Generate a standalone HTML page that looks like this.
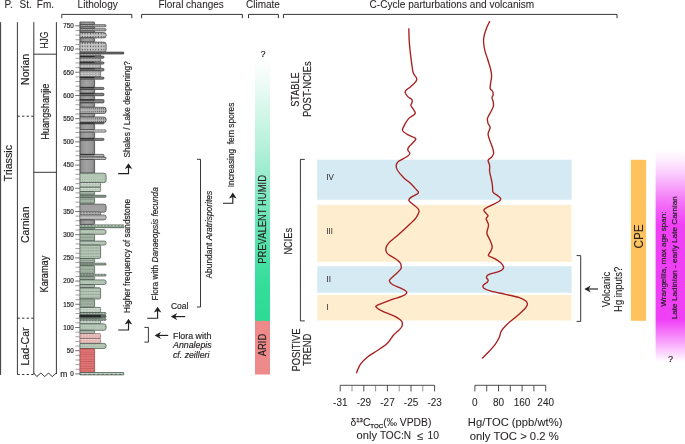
<!DOCTYPE html>
<html lang="en"><head><meta charset="utf-8"><title>Triassic section: lithology, floral changes, climate, C-cycle</title>
<style>
html,body{margin:0;padding:0;background:#fff;}
body{width:685px;height:444px;overflow:hidden;}
svg{display:block;font-family:"Liberation Sans", Arial, sans-serif;will-change:transform;}
text{stroke:#231f20;stroke-width:0.18px;}
</style></head><body>
<svg width="685" height="444" viewBox="0 0 685 444">
<defs>
<linearGradient id="gHumid" x1="0" y1="0" x2="0" y2="1">
<stop offset="0" stop-color="#ffffff"/>
<stop offset="0.08" stop-color="#f1fcf8"/>
<stop offset="0.35" stop-color="#b3f0d9"/>
<stop offset="0.6" stop-color="#6fe6b8"/>
<stop offset="0.85" stop-color="#36dd9b"/>
<stop offset="1" stop-color="#2bdb96"/>
</linearGradient>
<linearGradient id="gWr" x1="0" y1="0" x2="0" y2="1">
<stop offset="0" stop-color="#ffffff"/>
<stop offset="0.05" stop-color="#fdecfe"/>
<stop offset="0.113" stop-color="#fbcbfd"/>
<stop offset="0.24" stop-color="#f476f8"/>
<stop offset="0.35" stop-color="#f040f6"/>
<stop offset="0.80" stop-color="#f040f6"/>
<stop offset="0.90" stop-color="#f89dfb"/>
<stop offset="1" stop-color="#ffffff"/>
</linearGradient>
<linearGradient id="gMud" gradientUnits="userSpaceOnUse" x1="79.9" y1="0" x2="94.6" y2="0"><stop offset="0" stop-color="#7f7f7f"/><stop offset="0.18" stop-color="#979797"/><stop offset="0.45" stop-color="#a2a2a2"/><stop offset="0.82" stop-color="#979797"/><stop offset="1" stop-color="#7f7f7f"/></linearGradient>
<pattern id="pDotS" width="2.4" height="2.4" patternUnits="userSpaceOnUse"><rect x="0.7" y="0.8" width="0.8" height="0.7" fill="#4a4a4a"/></pattern>
<pattern id="pDotD" width="2.05" height="2.5" patternUnits="userSpaceOnUse"><rect x="0.5" y="0.9" width="0.9" height="1.0" fill="#3a3a3a"/></pattern>
<pattern id="pDotG" width="2.7" height="3.2" patternUnits="userSpaceOnUse"><rect x="0.8" y="1" width="1" height="1.2" fill="#2e2e2e"/></pattern>
<pattern id="pDotGr" width="2.2" height="2.2" patternUnits="userSpaceOnUse"><rect x="0.6" y="0.8" width="0.7" height="0.7" fill="#8fa68f"/></pattern>
<pattern id="pDashW" width="3" height="2.4" patternUnits="userSpaceOnUse"><rect x="0.4" y="1" width="1.8" height="0.7" fill="#eef5ee"/></pattern>
<pattern id="pDashWg" width="3" height="2.4" patternUnits="userSpaceOnUse"><rect x="0.4" y="1" width="1.8" height="0.7" fill="#ececec"/></pattern>
<pattern id="pDashP" width="3" height="2.4" patternUnits="userSpaceOnUse"><rect x="0.4" y="1" width="1.8" height="0.7" fill="#fbeeee"/></pattern>
<pattern id="pCross" width="1.8" height="1.8" patternUnits="userSpaceOnUse"><path d="M0,0L1.8,1.8M1.8,0L0,1.8" stroke="#5f5f5f" stroke-width="0.32"/></pattern>
<pattern id="pCongB" width="4.4" height="2.4" patternUnits="userSpaceOnUse" y="372.5"><rect x="0.4" y="1.5" width="2.2" height="0.8" fill="#55655a"/></pattern>
<pattern id="pDashD" width="2.5" height="2.9" patternUnits="userSpaceOnUse"><rect x="0.3" y="1.2" width="1.7" height="0.55" fill="#667b66"/></pattern>
<pattern id="pVbar" width="1.7" height="3" patternUnits="userSpaceOnUse"><rect x="0.5" y="0.6" width="0.6" height="1.9" fill="#f4f4f4"/></pattern>
<pattern id="pLineG" width="4" height="2.9" patternUnits="userSpaceOnUse"><rect x="0" y="2.3" width="4" height="0.5" fill="#6f7f6f"/></pattern>
<pattern id="pLineR" width="4" height="2.35" patternUnits="userSpaceOnUse"><rect x="0" y="1.8" width="4" height="0.5" fill="#b65252"/></pattern>
<pattern id="pCong" width="4.6" height="2.4" patternUnits="userSpaceOnUse"><rect x="0.3" y="0.9" width="2.6" height="0.9" fill="#444"/></pattern>
<pattern id="pCongG" width="3.4" height="3.2" patternUnits="userSpaceOnUse"><rect x="0.6" y="1.2" width="1.5" height="0.9" fill="#eef7ee"/></pattern>
</defs>
<rect width="685" height="444" fill="#fff"/>

<text x="4.6" y="7.9" font-size="10" text-anchor="start" fill="#231f20" style="stroke-width:0.06px">P.</text>
<text x="19.6" y="7.9" font-size="10" text-anchor="start" fill="#231f20" style="stroke-width:0.06px">St.</text>
<text x="36.8" y="7.9" font-size="10" text-anchor="start" fill="#231f20" style="stroke-width:0.06px">Fm.</text>
<text x="77.6" y="7.9" font-size="10" text-anchor="start" fill="#231f20" textLength="40.2" lengthAdjust="spacingAndGlyphs" style="stroke-width:0.06px">Lithology</text>
<text x="158.5" y="7.9" font-size="10" text-anchor="start" fill="#231f20" textLength="65.2" lengthAdjust="spacingAndGlyphs" style="stroke-width:0.06px">Floral changes</text>
<text x="246.0" y="7.9" font-size="10" text-anchor="start" fill="#231f20" style="stroke-width:0.06px">Climate</text>
<text x="369.6" y="7.9" font-size="10" text-anchor="start" fill="#231f20" textLength="164.6" lengthAdjust="spacingAndGlyphs" style="stroke-width:0.06px">C-Cycle parturbations and volcanism</text>
<path d="M61.8,18.2V14.4H131.8V18.2" fill="none" stroke="#231f20" stroke-width="0.9"/>
<path d="M141.6,18.2V14.4H242.4V18.2" fill="none" stroke="#231f20" stroke-width="0.9"/>
<path d="M248.5,18.2V14.4H278.4V18.2" fill="none" stroke="#231f20" stroke-width="0.9"/>
<path d="M283.4,18.2V14.4H617V18.2" fill="none" stroke="#231f20" stroke-width="0.9"/>
<g stroke="#231f20" stroke-width="0.9" fill="none">
<path d="M0.6,22.2V375"/>
<path d="M17.4,22.2V374.4"/>
<path d="M33.8,22.2V374"/>
<path d="M56.4,22.2V374"/>
<path d="M33.8,54.2H56.4"/>
<path d="M33.8,172.3H56.4"/>
<path d="M17.4,116.2H33.8" stroke-dasharray="2.4,2.2"/>
<path d="M17.4,318.2H33.8" stroke-dasharray="2.4,2.2"/>
<path d="M17.4,374.5H33.8" stroke-dasharray="2.4,2.2"/>
<path d="M33.8,373.0L36.8,376.6L40.9,373.0L44.6,376.6L48.6,373.0L52.1,376.6L56.4,373.0" stroke-linejoin="miter"/>
</g>
<text x="12.4" y="163.2" font-size="10.6" text-anchor="middle" fill="#231f20" transform="rotate(-90 12.4 163.2)" textLength="36.4" lengthAdjust="spacingAndGlyphs">Triassic</text>
<text x="29.4" y="69.4" font-size="10.6" text-anchor="middle" fill="#231f20" transform="rotate(-90 29.4 69.4)" textLength="31" lengthAdjust="spacingAndGlyphs">Norian</text>
<text x="29.4" y="224.8" font-size="10.6" text-anchor="middle" fill="#231f20" transform="rotate(-90 29.4 224.8)" textLength="36.6" lengthAdjust="spacingAndGlyphs">Carnian</text>
<text x="29.4" y="346.5" font-size="10.6" text-anchor="middle" fill="#231f20" transform="rotate(-90 29.4 346.5)" textLength="38" lengthAdjust="spacingAndGlyphs">Lad-Car</text>
<text x="48.2" y="40" font-size="10.4" text-anchor="middle" fill="#231f20" transform="rotate(-90 48.2 40)" textLength="17" lengthAdjust="spacingAndGlyphs">HJG</text>
<text x="48.6" y="111.7" font-size="10.4" text-anchor="middle" fill="#231f20" transform="rotate(-90 48.6 111.7)" textLength="56.2" lengthAdjust="spacingAndGlyphs">Huangshanjie</text>
<text x="48.4" y="274.1" font-size="10.4" text-anchor="middle" fill="#231f20" transform="rotate(-90 48.4 274.1)" textLength="36.8" lengthAdjust="spacingAndGlyphs">Karamay</text>
<path d="M75.2,373.90H79.9" stroke="#333" stroke-width="0.7"/>
<path d="M75.5,369.26H79.9" stroke="#777" stroke-width="0.7"/>
<path d="M75.5,364.62H79.9" stroke="#777" stroke-width="0.7"/>
<path d="M75.5,359.98H79.9" stroke="#777" stroke-width="0.7"/>
<path d="M75.5,355.34H79.9" stroke="#777" stroke-width="0.7"/>
<path d="M75.2,350.69H79.9" stroke="#333" stroke-width="0.7"/>
<path d="M75.5,346.05H79.9" stroke="#777" stroke-width="0.7"/>
<path d="M75.5,341.41H79.9" stroke="#777" stroke-width="0.7"/>
<path d="M75.5,336.77H79.9" stroke="#777" stroke-width="0.7"/>
<path d="M75.5,332.13H79.9" stroke="#777" stroke-width="0.7"/>
<path d="M75.2,327.49H79.9" stroke="#333" stroke-width="0.7"/>
<path d="M75.5,322.85H79.9" stroke="#777" stroke-width="0.7"/>
<path d="M75.5,318.21H79.9" stroke="#777" stroke-width="0.7"/>
<path d="M75.5,313.57H79.9" stroke="#777" stroke-width="0.7"/>
<path d="M75.5,308.93H79.9" stroke="#777" stroke-width="0.7"/>
<path d="M75.2,304.28H79.9" stroke="#333" stroke-width="0.7"/>
<path d="M75.5,299.64H79.9" stroke="#777" stroke-width="0.7"/>
<path d="M75.5,295.00H79.9" stroke="#777" stroke-width="0.7"/>
<path d="M75.5,290.36H79.9" stroke="#777" stroke-width="0.7"/>
<path d="M75.5,285.72H79.9" stroke="#777" stroke-width="0.7"/>
<path d="M75.2,281.08H79.9" stroke="#333" stroke-width="0.7"/>
<path d="M75.5,276.44H79.9" stroke="#777" stroke-width="0.7"/>
<path d="M75.5,271.80H79.9" stroke="#777" stroke-width="0.7"/>
<path d="M75.5,267.16H79.9" stroke="#777" stroke-width="0.7"/>
<path d="M75.5,262.52H79.9" stroke="#777" stroke-width="0.7"/>
<path d="M75.2,257.88H79.9" stroke="#333" stroke-width="0.7"/>
<path d="M75.5,253.23H79.9" stroke="#777" stroke-width="0.7"/>
<path d="M75.5,248.59H79.9" stroke="#777" stroke-width="0.7"/>
<path d="M75.5,243.95H79.9" stroke="#777" stroke-width="0.7"/>
<path d="M75.5,239.31H79.9" stroke="#777" stroke-width="0.7"/>
<path d="M75.2,234.67H79.9" stroke="#333" stroke-width="0.7"/>
<path d="M75.5,230.03H79.9" stroke="#777" stroke-width="0.7"/>
<path d="M75.5,225.39H79.9" stroke="#777" stroke-width="0.7"/>
<path d="M75.5,220.75H79.9" stroke="#777" stroke-width="0.7"/>
<path d="M75.5,216.11H79.9" stroke="#777" stroke-width="0.7"/>
<path d="M75.2,211.46H79.9" stroke="#333" stroke-width="0.7"/>
<path d="M75.5,206.82H79.9" stroke="#777" stroke-width="0.7"/>
<path d="M75.5,202.18H79.9" stroke="#777" stroke-width="0.7"/>
<path d="M75.5,197.54H79.9" stroke="#777" stroke-width="0.7"/>
<path d="M75.5,192.90H79.9" stroke="#777" stroke-width="0.7"/>
<path d="M75.2,188.26H79.9" stroke="#333" stroke-width="0.7"/>
<path d="M75.5,183.62H79.9" stroke="#777" stroke-width="0.7"/>
<path d="M75.5,178.98H79.9" stroke="#777" stroke-width="0.7"/>
<path d="M75.5,174.34H79.9" stroke="#777" stroke-width="0.7"/>
<path d="M75.5,169.70H79.9" stroke="#777" stroke-width="0.7"/>
<path d="M75.2,165.05H79.9" stroke="#333" stroke-width="0.7"/>
<path d="M75.5,160.41H79.9" stroke="#777" stroke-width="0.7"/>
<path d="M75.5,155.77H79.9" stroke="#777" stroke-width="0.7"/>
<path d="M75.5,151.13H79.9" stroke="#777" stroke-width="0.7"/>
<path d="M75.5,146.49H79.9" stroke="#777" stroke-width="0.7"/>
<path d="M75.2,141.85H79.9" stroke="#333" stroke-width="0.7"/>
<path d="M75.5,137.21H79.9" stroke="#777" stroke-width="0.7"/>
<path d="M75.5,132.57H79.9" stroke="#777" stroke-width="0.7"/>
<path d="M75.5,127.93H79.9" stroke="#777" stroke-width="0.7"/>
<path d="M75.5,123.29H79.9" stroke="#777" stroke-width="0.7"/>
<path d="M75.2,118.64H79.9" stroke="#333" stroke-width="0.7"/>
<path d="M75.5,114.00H79.9" stroke="#777" stroke-width="0.7"/>
<path d="M75.5,109.36H79.9" stroke="#777" stroke-width="0.7"/>
<path d="M75.5,104.72H79.9" stroke="#777" stroke-width="0.7"/>
<path d="M75.5,100.08H79.9" stroke="#777" stroke-width="0.7"/>
<path d="M75.2,95.44H79.9" stroke="#333" stroke-width="0.7"/>
<path d="M75.5,90.80H79.9" stroke="#777" stroke-width="0.7"/>
<path d="M75.5,86.16H79.9" stroke="#777" stroke-width="0.7"/>
<path d="M75.5,81.52H79.9" stroke="#777" stroke-width="0.7"/>
<path d="M75.5,76.88H79.9" stroke="#777" stroke-width="0.7"/>
<path d="M75.2,72.23H79.9" stroke="#333" stroke-width="0.7"/>
<path d="M75.5,67.59H79.9" stroke="#777" stroke-width="0.7"/>
<path d="M75.5,62.95H79.9" stroke="#777" stroke-width="0.7"/>
<path d="M75.5,58.31H79.9" stroke="#777" stroke-width="0.7"/>
<path d="M75.5,53.67H79.9" stroke="#777" stroke-width="0.7"/>
<path d="M75.2,49.03H79.9" stroke="#333" stroke-width="0.7"/>
<path d="M75.5,44.39H79.9" stroke="#777" stroke-width="0.7"/>
<path d="M75.5,39.75H79.9" stroke="#777" stroke-width="0.7"/>
<path d="M75.5,35.11H79.9" stroke="#777" stroke-width="0.7"/>
<path d="M75.5,30.47H79.9" stroke="#777" stroke-width="0.7"/>
<path d="M75.2,25.82H79.9" stroke="#333" stroke-width="0.7"/>
<text x="73.7" y="376.2" font-size="6.3" text-anchor="end" fill="#231f20">0</text>
<text x="73.7" y="353.0" font-size="6.3" text-anchor="end" fill="#231f20">50</text>
<text x="73.7" y="329.79" font-size="6.3" text-anchor="end" fill="#231f20">100</text>
<text x="73.7" y="306.58" font-size="6.3" text-anchor="end" fill="#231f20">150</text>
<text x="73.7" y="283.38" font-size="6.3" text-anchor="end" fill="#231f20">200</text>
<text x="73.7" y="260.18" font-size="6.3" text-anchor="end" fill="#231f20">250</text>
<text x="73.7" y="236.97" font-size="6.3" text-anchor="end" fill="#231f20">300</text>
<text x="73.7" y="213.76" font-size="6.3" text-anchor="end" fill="#231f20">350</text>
<text x="73.7" y="190.56" font-size="6.3" text-anchor="end" fill="#231f20">400</text>
<text x="73.7" y="167.35" font-size="6.3" text-anchor="end" fill="#231f20">450</text>
<text x="73.7" y="144.15" font-size="6.3" text-anchor="end" fill="#231f20">500</text>
<text x="73.7" y="120.94" font-size="6.3" text-anchor="end" fill="#231f20">550</text>
<text x="73.7" y="97.74" font-size="6.3" text-anchor="end" fill="#231f20">600</text>
<text x="73.7" y="74.53" font-size="6.3" text-anchor="end" fill="#231f20">650</text>
<text x="73.7" y="51.33" font-size="6.3" text-anchor="end" fill="#231f20">700</text>
<text x="73.7" y="28.12" font-size="6.3" text-anchor="end" fill="#231f20">750</text>
<text x="60.3" y="376.6" font-size="8.5" text-anchor="start" fill="#231f20">m</text>
<path d="M79.9,22.0H93.70Q94.6,22.0 94.6,22.90V23.80Q94.6,24.7 93.70,24.7H79.9Z" fill="url(#gMud)" stroke="#363636" stroke-width="0.7"/>
<path d="M79.9,24.7H105.15Q106.1,24.7 106.1,25.65V25.85Q106.1,26.8 105.15,26.8H79.9Z" fill="#c4c4c4" stroke="#363636" stroke-width="0.7"/>
<path d="M79.9,24.7H105.15Q106.1,24.7 106.1,25.65V25.85Q106.1,26.8 105.15,26.8H79.9Z" fill="url(#pDotS)"/>
<path d="M79.9,26.8H93.97Q94.6,26.8 94.6,27.43V28.07Q94.6,28.7 93.97,28.7H79.9Z" fill="url(#gMud)" stroke="#363636" stroke-width="0.7"/>
<path d="M79.9,28.7H105.10Q106.1,28.7 106.1,29.70V29.90Q106.1,30.9 105.10,30.9H79.9Z" fill="#c4c4c4" stroke="#363636" stroke-width="0.7"/>
<path d="M79.9,28.7H105.10Q106.1,28.7 106.1,29.70V29.90Q106.1,30.9 105.10,30.9H79.9Z" fill="url(#pDotS)"/>
<path d="M79.9,30.9H94.07Q94.6,30.9 94.6,31.43V31.97Q94.6,32.5 94.07,32.5H79.9Z" fill="url(#gMud)" stroke="#363636" stroke-width="0.7"/>
<path d="M79.9,32.5H103.90Q106.1,32.5 106.1,34.70V35.70Q106.1,37.9 103.90,37.9H79.9Z" fill="#c4c4c4" stroke="#363636" stroke-width="0.7"/>
<path d="M79.9,32.5H103.90Q106.1,32.5 106.1,34.70V35.70Q106.1,37.9 103.90,37.9H79.9Z" fill="url(#pDotG)"/>
<path d="M79.9,37.9H93.50Q94.6,37.9 94.6,39.00V41.00Q94.6,42.1 93.50,42.1H79.9Z" fill="url(#gMud)" stroke="#363636" stroke-width="0.7"/>
<path d="M79.9,42.1H103.90Q106.1,42.1 106.1,44.30V49.90Q106.1,52.1 103.90,52.1H79.9Z" fill="#c4c4c4" stroke="#363636" stroke-width="0.7"/>
<path d="M79.9,42.1H103.90Q106.1,42.1 106.1,44.30V49.90Q106.1,52.1 103.90,52.1H79.9Z" fill="url(#pDotG)"/>
<path d="M79.9,52.1H123.7V54.0H79.9Z" fill="#777" stroke="#363636" stroke-width="0.7"/>
<path d="M79.9,52.1H123.7V54.0H79.9Z" fill="url(#pCong)"/>
<path d="M79.9,54.0H100.00Q100.6,54.0 100.6,54.60V55.50Q100.6,56.1 100.00,56.1H79.9Z" fill="#a9a9a9" stroke="#363636" stroke-width="0.7"/>
<path d="M79.9,54.0H100.00Q100.6,54.0 100.6,54.60V55.50Q100.6,56.1 100.00,56.1H79.9Z" fill="url(#pDashWg)"/>
<path d="M79.9,56.1H103.00Q104.0,56.1 104.0,57.10V57.30Q104.0,58.3 103.00,58.3H79.9Z" fill="#858585" stroke="#363636" stroke-width="0.7"/>
<path d="M79.9,56.550000000000004H94.6" stroke="#1e1e1e" stroke-width="0.9"/>
<path d="M79.9,58.3H100.00Q100.6,58.3 100.6,58.90V61.30Q100.6,61.9 100.00,61.9H79.9Z" fill="#a9a9a9" stroke="#363636" stroke-width="0.7"/>
<path d="M79.9,58.3H100.00Q100.6,58.3 100.6,58.90V61.30Q100.6,61.9 100.00,61.9H79.9Z" fill="url(#pDashWg)"/>
<path d="M79.9,61.9H103.00Q104.0,61.9 104.0,62.90V63.10Q104.0,64.1 103.00,64.1H79.9Z" fill="#858585" stroke="#363636" stroke-width="0.7"/>
<path d="M79.9,62.35H94.6" stroke="#1e1e1e" stroke-width="0.9"/>
<path d="M79.9,64.1H100.00Q100.6,64.1 100.6,64.70V67.80Q100.6,68.4 100.00,68.4H79.9Z" fill="#a9a9a9" stroke="#363636" stroke-width="0.7"/>
<path d="M79.9,64.1H100.00Q100.6,64.1 100.6,64.70V67.80Q100.6,68.4 100.00,68.4H79.9Z" fill="url(#pDashWg)"/>
<path d="M79.9,68.4H103.00Q104.0,68.4 104.0,69.40V69.90Q104.0,70.9 103.00,70.9H79.9Z" fill="#858585" stroke="#363636" stroke-width="0.7"/>
<path d="M79.9,68.85000000000001H94.6" stroke="#1e1e1e" stroke-width="0.9"/>
<path d="M79.9,70.9H100.00Q100.6,70.9 100.6,71.50V76.40Q100.6,77.0 100.00,77.0H79.9Z" fill="#a9a9a9" stroke="#363636" stroke-width="0.7"/>
<path d="M79.9,70.9H100.00Q100.6,70.9 100.6,71.50V76.40Q100.6,77.0 100.00,77.0H79.9Z" fill="url(#pDashWg)"/>
<path d="M79.9,77.0H103.00Q104.0,77.0 104.0,78.00V78.20Q104.0,79.2 103.00,79.2H79.9Z" fill="#858585" stroke="#363636" stroke-width="0.7"/>
<path d="M79.9,77.45H94.6" stroke="#1e1e1e" stroke-width="0.9"/>
<path d="M79.9,79.2H93.50Q94.6,79.2 94.6,80.30V86.30Q94.6,87.4 93.50,87.4H79.9Z" fill="url(#gMud)" stroke="#363636" stroke-width="0.7"/>
<path d="M79.9,87.4H103.05Q104.0,87.4 104.0,88.35V88.55Q104.0,89.5 103.05,89.5H79.9Z" fill="#858585" stroke="#363636" stroke-width="0.7"/>
<path d="M79.9,87.85000000000001H94.6" stroke="#1e1e1e" stroke-width="0.9"/>
<path d="M79.9,89.5H93.50Q94.6,89.5 94.6,90.60V92.20Q94.6,93.3 93.50,93.3H79.9Z" fill="url(#gMud)" stroke="#363636" stroke-width="0.7"/>
<path d="M79.9,93.3H103.00Q104.0,93.3 104.0,94.30V94.70Q104.0,95.7 103.00,95.7H79.9Z" fill="#858585" stroke="#363636" stroke-width="0.7"/>
<path d="M79.9,93.75H94.6" stroke="#1e1e1e" stroke-width="0.9"/>
<path d="M79.9,95.7H93.50Q94.6,95.7 94.6,96.80V98.50Q94.6,99.6 93.50,99.6H79.9Z" fill="url(#gMud)" stroke="#363636" stroke-width="0.7"/>
<path d="M79.9,99.6H103.00Q104.0,99.6 104.0,100.60V101.90Q104.0,102.9 103.00,102.9H79.9Z" fill="#858585" stroke="#363636" stroke-width="0.7"/>
<path d="M79.9,100.05H94.6" stroke="#1e1e1e" stroke-width="0.9"/>
<path d="M79.9,102.9H93.50Q94.6,102.9 94.6,104.00V106.20Q94.6,107.3 93.50,107.3H79.9Z" fill="url(#gMud)" stroke="#363636" stroke-width="0.7"/>
<path d="M79.9,107.3H103.90Q106.1,107.3 106.1,109.50V111.20Q106.1,113.4 103.90,113.4H79.9Z" fill="#bbbbbb" stroke="#363636" stroke-width="0.7"/>
<path d="M79.9,107.3H103.90Q106.1,107.3 106.1,109.50V111.20Q106.1,113.4 103.90,113.4H79.9Z" fill="url(#pDotD)"/>
<path d="M79.9,113.4H93.50Q94.6,113.4 94.6,114.50V115.90Q94.6,117.0 93.50,117.0H79.9Z" fill="url(#gMud)" stroke="#363636" stroke-width="0.7"/>
<path d="M79.9,117.0H103.90Q106.1,117.0 106.1,119.20V120.40Q106.1,122.6 103.90,122.6H79.9Z" fill="#bbbbbb" stroke="#363636" stroke-width="0.7"/>
<path d="M79.9,117.0H103.90Q106.1,117.0 106.1,119.20V120.40Q106.1,122.6 103.90,122.6H79.9Z" fill="url(#pDotD)"/>
<path d="M79.9,122.6H103.41Q104.0,122.6 104.0,123.19V123.31Q104.0,123.9 103.41,123.9H79.9Z" fill="#858585" stroke="#363636" stroke-width="0.7"/>
<path d="M79.9,123.05H94.6" stroke="#1e1e1e" stroke-width="0.9"/>
<path d="M79.9,123.9H93.50Q94.6,123.9 94.6,125.00V128.80Q94.6,129.9 93.50,129.9H79.9Z" fill="url(#gMud)" stroke="#363636" stroke-width="0.7"/>
<path d="M79.9,129.9H105.10Q106.1,129.9 106.1,130.90V131.10Q106.1,132.1 105.10,132.1H79.9Z" fill="#c4c4c4" stroke="#363636" stroke-width="0.7"/>
<path d="M79.9,129.9H105.10Q106.1,129.9 106.1,130.90V131.10Q106.1,132.1 105.10,132.1H79.9Z" fill="url(#pDashWg)"/>
<path d="M79.9,132.1H93.50Q94.6,132.1 94.6,133.20V137.30Q94.6,138.4 93.50,138.4H79.9Z" fill="url(#gMud)" stroke="#363636" stroke-width="0.7"/>
<path d="M79.9,138.4H103.09Q104.0,138.4 104.0,139.31V139.49Q104.0,140.4 103.09,140.4H79.9Z" fill="#858585" stroke="#363636" stroke-width="0.7"/>
<path d="M79.9,138.85H94.6" stroke="#1e1e1e" stroke-width="0.9"/>
<path d="M79.9,140.4H93.50Q94.6,140.4 94.6,141.50V153.30Q94.6,154.4 93.50,154.4H79.9Z" fill="url(#gMud)" stroke="#363636" stroke-width="0.7"/>
<path d="M79.9,154.4H103.00Q104.0,154.4 104.0,155.40V156.00Q104.0,157.0 103.00,157.0H79.9Z" fill="#bdbdbd" stroke="#363636" stroke-width="0.7"/>
<path d="M79.9,154.85H94.6" stroke="#1e1e1e" stroke-width="0.9"/>
<path d="M79.9,157.0H105.10Q106.1,157.0 106.1,158.00V158.40Q106.1,159.4 105.10,159.4H79.9Z" fill="#c4c4c4" stroke="#363636" stroke-width="0.7"/>
<path d="M79.9,157.0H105.10Q106.1,157.0 106.1,158.00V158.40Q106.1,159.4 105.10,159.4H79.9Z" fill="url(#pDotS)"/>
<path d="M79.9,159.4H93.50Q94.6,159.4 94.6,160.50V172.10Q94.6,173.2 93.50,173.2H79.9Z" fill="url(#gMud)" stroke="#363636" stroke-width="0.7"/>
<path d="M79.9,173.2H103.90Q106.1,173.2 106.1,175.40V180.40Q106.1,182.6 103.90,182.6H79.9Z" fill="#b8c9b9" stroke="#3f4d44" stroke-width="0.7"/>
<path d="M79.9,173.2H103.90Q106.1,173.2 106.1,175.40V180.40Q106.1,182.6 103.90,182.6H79.9Z" fill="url(#pDotGr)"/>
<path d="M79.9,182.6H100.00Q100.6,182.6 100.6,183.20V186.60Q100.6,187.2 100.00,187.2H79.9Z" fill="#b5c5b6" stroke="#3f4d44" stroke-width="0.7"/>
<path d="M79.9,182.6H100.00Q100.6,182.6 100.6,183.20V186.60Q100.6,187.2 100.00,187.2H79.9Z" fill="url(#pDashW)"/>
<path d="M79.9,187.2H100.00Q100.6,187.2 100.6,187.80V190.90Q100.6,191.5 100.00,191.5H79.9Z" fill="#b5c5b6" stroke="#3f4d44" stroke-width="0.7"/>
<path d="M79.9,187.2H100.00Q100.6,187.2 100.6,187.80V190.90Q100.6,191.5 100.00,191.5H79.9Z" fill="url(#pDashW)"/>
<path d="M79.9,191.5H93.50Q94.6,191.5 94.6,192.60V193.90Q94.6,195.0 93.50,195.0H79.9Z" fill="#a4b4a5" stroke="#3f4d44" stroke-width="0.7"/>
<path d="M79.9,191.5H93.50Q94.6,191.5 94.6,192.60V193.90Q94.6,195.0 93.50,195.0H79.9Z" fill="url(#pLineG)"/>
<path d="M79.9,195.3H105.19Q106.1,195.3 106.1,196.21V196.39Q106.1,197.3 105.19,197.3H79.9Z" fill="#8aa08c" stroke="#3f4d44" stroke-width="0.7"/>
<path d="M79.9,197.7H93.50Q94.6,197.7 94.6,198.80V202.70Q94.6,203.8 93.50,203.8H79.9Z" fill="#a4b4a5" stroke="#3f4d44" stroke-width="0.7"/>
<path d="M79.9,197.7H93.50Q94.6,197.7 94.6,198.80V202.70Q94.6,203.8 93.50,203.8H79.9Z" fill="url(#pLineG)"/>
<path d="M79.9,204.2H103.90Q106.1,204.2 106.1,206.40V210.00Q106.1,212.2 103.90,212.2H79.9Z" fill="#c4c4c4" stroke="#363636" stroke-width="0.7"/>
<path d="M79.9,204.2H103.90Q106.1,204.2 106.1,206.40V210.00Q106.1,212.2 103.90,212.2H79.9Z" fill="url(#pCross)"/>
<path d="M79.9,212.2H100.00Q100.6,212.2 100.6,212.80V214.40Q100.6,215.0 100.00,215.0H79.9Z" fill="#a9a9a9" stroke="#363636" stroke-width="0.7"/>
<path d="M79.9,212.2H100.00Q100.6,212.2 100.6,212.80V214.40Q100.6,215.0 100.00,215.0H79.9Z" fill="url(#pDashWg)"/>
<path d="M79.9,215.0H104.06Q106.1,215.0 106.1,217.04V217.86Q106.1,219.9 104.06,219.9H79.9Z" fill="#a2a2a2" stroke="#363636" stroke-width="0.7"/>
<path d="M79.9,215.0H104.06Q106.1,215.0 106.1,217.04V217.86Q106.1,219.9 104.06,219.9H79.9Z" fill="url(#pVbar)"/>
<path d="M79.9,219.9H93.50Q94.6,219.9 94.6,221.00V223.30Q94.6,224.4 93.50,224.4H79.9Z" fill="url(#gMud)" stroke="#363636" stroke-width="0.7"/>
<path d="M79.9,224.9H123.7V227.7H79.9Z" fill="#8aa08c" stroke="#3f4d44" stroke-width="0.7"/>
<path d="M79.9,224.9H123.7V227.7H79.9Z" fill="url(#pCongG)"/>
<path d="M79.9,227.9H94.07Q94.6,227.9 94.6,228.43V228.97Q94.6,229.5 94.07,229.5H79.9Z" fill="#a4b4a5" stroke="#3f4d44" stroke-width="0.7"/>
<path d="M79.9,229.6H104.14Q106.1,229.6 106.1,231.56V232.34Q106.1,234.3 104.14,234.3H79.9Z" fill="#b8c9b9" stroke="#3f4d44" stroke-width="0.7"/>
<path d="M79.9,229.6H104.14Q106.1,229.6 106.1,231.56V232.34Q106.1,234.3 104.14,234.3H79.9Z" fill="url(#pDotGr)"/>
<path d="M79.9,234.3H93.50Q94.6,234.3 94.6,235.40V240.00Q94.6,241.1 93.50,241.1H79.9Z" fill="#a4b4a5" stroke="#3f4d44" stroke-width="0.7"/>
<path d="M79.9,234.3H93.50Q94.6,234.3 94.6,235.40V240.00Q94.6,241.1 93.50,241.1H79.9Z" fill="url(#pLineG)"/>
<path d="M79.9,241.1H104.43Q106.1,241.1 106.1,242.77V243.43Q106.1,245.1 104.43,245.1H79.9Z" fill="#b8c9b9" stroke="#3f4d44" stroke-width="0.7"/>
<path d="M79.9,241.1H104.43Q106.1,241.1 106.1,242.77V243.43Q106.1,245.1 104.43,245.1H79.9Z" fill="url(#pDotGr)"/>
<path d="M79.9,245.1H99.20Q100.6,245.1 100.6,246.50V257.10Q100.6,258.5 99.20,258.5H79.9Z" fill="#b5c5b6" stroke="#3f4d44" stroke-width="0.7"/>
<path d="M79.9,245.1H99.20Q100.6,245.1 100.6,246.50V257.10Q100.6,258.5 99.20,258.5H79.9Z" fill="url(#pDashD)"/>
<path d="M79.9,258.5H93.50Q94.6,258.5 94.6,259.60V261.70Q94.6,262.8 93.50,262.8H79.9Z" fill="#a4b4a5" stroke="#3f4d44" stroke-width="0.7"/>
<path d="M79.9,258.5H93.50Q94.6,258.5 94.6,259.60V261.70Q94.6,262.8 93.50,262.8H79.9Z" fill="url(#pLineG)"/>
<path d="M79.9,263.2H105.28Q106.1,263.2 106.1,264.02V264.18Q106.1,265.0 105.28,265.0H79.9Z" fill="#8aa08c" stroke="#3f4d44" stroke-width="0.7"/>
<path d="M79.9,263.2H105.28Q106.1,263.2 106.1,264.02V264.18Q106.1,265.0 105.28,265.0H79.9Z" fill="url(#pDashW)"/>
<path d="M79.9,265.5H93.50Q94.6,265.5 94.6,266.60V272.90Q94.6,274.0 93.50,274.0H79.9Z" fill="#a4b4a5" stroke="#3f4d44" stroke-width="0.7"/>
<path d="M79.9,265.5H93.50Q94.6,265.5 94.6,266.60V272.90Q94.6,274.0 93.50,274.0H79.9Z" fill="url(#pLineG)"/>
<path d="M79.9,274.3H105.33Q106.1,274.3 106.1,275.07V275.23Q106.1,276.0 105.33,276.0H79.9Z" fill="#8aa08c" stroke="#3f4d44" stroke-width="0.7"/>
<path d="M79.9,274.3H105.33Q106.1,274.3 106.1,275.07V275.23Q106.1,276.0 105.33,276.0H79.9Z" fill="url(#pDashW)"/>
<path d="M79.9,276.4H93.50Q94.6,276.4 94.6,277.50V278.80Q94.6,279.9 93.50,279.9H79.9Z" fill="#a4b4a5" stroke="#3f4d44" stroke-width="0.7"/>
<path d="M79.9,276.4H93.50Q94.6,276.4 94.6,277.50V278.80Q94.6,279.9 93.50,279.9H79.9Z" fill="url(#pLineG)"/>
<path d="M79.9,279.9H104.18Q106.1,279.9 106.1,281.82V282.58Q106.1,284.5 104.18,284.5H79.9Z" fill="#b8c9b9" stroke="#3f4d44" stroke-width="0.7"/>
<path d="M79.9,279.9H104.18Q106.1,279.9 106.1,281.82V282.58Q106.1,284.5 104.18,284.5H79.9Z" fill="url(#pDotGr)"/>
<path d="M79.9,284.5H93.53Q94.6,284.5 94.6,285.57V286.63Q94.6,287.7 93.53,287.7H79.9Z" fill="#a4b4a5" stroke="#3f4d44" stroke-width="0.7"/>
<path d="M79.9,287.7H99.20Q100.6,287.7 100.6,289.10V297.60Q100.6,299.0 99.20,299.0H79.9Z" fill="#b5c5b6" stroke="#3f4d44" stroke-width="0.7"/>
<path d="M79.9,287.7H99.20Q100.6,287.7 100.6,289.10V297.60Q100.6,299.0 99.20,299.0H79.9Z" fill="url(#pDashD)"/>
<path d="M79.9,299.0H93.50Q94.6,299.0 94.6,300.10V306.30Q94.6,307.4 93.50,307.4H79.9Z" fill="#a4b4a5" stroke="#3f4d44" stroke-width="0.7"/>
<path d="M79.9,299.0H93.50Q94.6,299.0 94.6,300.10V306.30Q94.6,307.4 93.50,307.4H79.9Z" fill="url(#pLineG)"/>
<path d="M79.9,307.4H100.00Q100.6,307.4 100.6,308.00V312.00Q100.6,312.6 100.00,312.6H79.9Z" fill="#b5c5b6" stroke="#3f4d44" stroke-width="0.7"/>
<path d="M79.9,307.4H100.00Q100.6,307.4 100.6,308.00V312.00Q100.6,312.6 100.00,312.6H79.9Z" fill="url(#pDashW)"/>
<path d="M79.9,312.6H105.28Q106.1,312.6 106.1,313.42V313.58Q106.1,314.4 105.28,314.4H79.9Z" fill="#8aa08c" stroke="#3f4d44" stroke-width="0.7"/>
<path d="M79.9,312.6H105.28Q106.1,312.6 106.1,313.42V313.58Q106.1,314.4 105.28,314.4H79.9Z" fill="url(#pDashW)"/>
<path d="M79.9,314.4H100.00Q100.6,314.4 100.6,315.00V314.90Q100.6,315.5 100.00,315.5H79.9Z" fill="#b5c5b6" stroke="#3f4d44" stroke-width="0.7"/>
<path d="M79.9,315.5H105.24Q106.1,315.5 106.1,316.36V316.54Q106.1,317.4 105.24,317.4H79.9Z" fill="#59655c" stroke="#3f4d44" stroke-width="0.7"/>
<path d="M79.9,315.5H100.00Q100.6,315.5 100.6,316.10V316.80Q100.6,317.4 100.00,317.4H79.9Z" fill="#222" stroke="#222" stroke-width="0.7"/>
<path d="M79.9,317.4H100.00Q100.6,317.4 100.6,318.00V318.00Q100.6,318.6 100.00,318.6H79.9Z" fill="#b5c5b6" stroke="#3f4d44" stroke-width="0.7"/>
<path d="M79.9,318.6H105.28Q106.1,318.6 106.1,319.42V319.58Q106.1,320.4 105.28,320.4H79.9Z" fill="#8aa08c" stroke="#3f4d44" stroke-width="0.7"/>
<path d="M79.9,318.6H105.28Q106.1,318.6 106.1,319.42V319.58Q106.1,320.4 105.28,320.4H79.9Z" fill="url(#pDashW)"/>
<path d="M79.9,320.4H100.00Q100.6,320.4 100.6,321.00V323.20Q100.6,323.8 100.00,323.8H79.9Z" fill="#b5c5b6" stroke="#3f4d44" stroke-width="0.7"/>
<path d="M79.9,320.4H100.00Q100.6,320.4 100.6,321.00V323.20Q100.6,323.8 100.00,323.8H79.9Z" fill="url(#pDashW)"/>
<path d="M79.9,323.8H103.90Q106.1,323.8 106.1,326.00V328.10Q106.1,330.3 103.90,330.3H79.9Z" fill="#b8c9b9" stroke="#3f4d44" stroke-width="0.7"/>
<path d="M79.9,323.8H103.90Q106.1,323.8 106.1,326.00V328.10Q106.1,330.3 103.90,330.3H79.9Z" fill="url(#pDotGr)"/>
<path d="M79.9,330.3H93.50Q94.6,330.3 94.6,331.40V332.60Q94.6,333.7 93.50,333.7H79.9Z" fill="#a4b4a5" stroke="#3f4d44" stroke-width="0.7"/>
<path d="M79.9,333.7H100.00Q100.6,333.7 100.6,334.30V337.80Q100.6,338.4 100.00,338.4H79.9Z" fill="#e4b2b2" stroke="#7a5a5a" stroke-width="0.7"/>
<path d="M79.9,333.7H100.00Q100.6,333.7 100.6,334.30V337.80Q100.6,338.4 100.00,338.4H79.9Z" fill="url(#pDashP)"/>
<path d="M79.9,338.4H100.00Q100.6,338.4 100.6,339.00V342.80Q100.6,343.4 100.00,343.4H79.9Z" fill="#e4b2b2" stroke="#7a5a5a" stroke-width="0.7"/>
<path d="M79.9,338.4H100.00Q100.6,338.4 100.6,339.00V342.80Q100.6,343.4 100.00,343.4H79.9Z" fill="url(#pDashP)"/>
<path d="M79.9,343.4H103.97Q106.1,343.4 106.1,345.52V346.38Q106.1,348.5 103.97,348.5H79.9Z" fill="#b8c9b9" stroke="#3f4d44" stroke-width="0.7"/>
<path d="M79.9,343.4H103.97Q106.1,343.4 106.1,345.52V346.38Q106.1,348.5 103.97,348.5H79.9Z" fill="url(#pDotGr)"/>
<path d="M79.9,348.5H93.50Q94.6,348.5 94.6,349.60V371.50Q94.6,372.6 93.50,372.6H79.9Z" fill="#e27474" stroke="#7a4040" stroke-width="0.7"/>
<path d="M79.9,348.5H93.50Q94.6,348.5 94.6,349.60V371.50Q94.6,372.6 93.50,372.6H79.9Z" fill="url(#pLineR)"/>
<path d="M79.9,372.5H123.7V374.9H79.9Z" fill="#c3d2c4" stroke="#3f4d44" stroke-width="0.7"/>
<path d="M79.9,372.5H123.7V374.9H79.9Z" fill="url(#pCongB)"/>
<path d="M118.2,173.6H128.5V166.6" fill="none" stroke="#231f20" stroke-width="1.15"/>
<path d="M128.5,163.2L132.3,169.0L128.5,167.5L124.7,169.0Z" fill="#231f20"/>
<text x="129.8" y="157.6" font-size="8.4" text-anchor="start" fill="#231f20" transform="rotate(-90 129.8 157.6)" textLength="96.4" lengthAdjust="spacingAndGlyphs">Shales / Lake deepening?</text>
<path d="M118.2,330.0H128.5V322.2" fill="none" stroke="#231f20" stroke-width="1.15"/>
<path d="M128.5,318.8L132.3,324.59999999999997L128.5,323.09999999999997L124.7,324.59999999999997Z" fill="#231f20"/>
<text x="129.8" y="312.9" font-size="8.4" text-anchor="start" fill="#231f20" transform="rotate(-90 129.8 312.9)" textLength="114" lengthAdjust="spacingAndGlyphs">Higher frequency of sandstone</text>
<path d="M147.2,318.2H157.6V310.2" fill="none" stroke="#231f20" stroke-width="1.15"/>
<path d="M157.6,306.8L161.4,312.59999999999997L157.6,311.09999999999997L153.79999999999998,312.59999999999997Z" fill="#231f20"/>
<text x="158.4" y="300.6" font-size="8.4" fill="#231f20" transform="rotate(-90 158.4 300.6)" textLength="113.4" lengthAdjust="spacingAndGlyphs">Flora with <tspan font-style="italic">Danaeopsis fecunda</tspan></text>
<text x="170.9" y="308.6" font-size="8.7" text-anchor="start" fill="#231f20" textLength="17.4" lengthAdjust="spacingAndGlyphs">Coal</text>
<path d="M172.2,316.6H185.2" fill="none" stroke="#231f20" stroke-width="1.15"/>
<path d="M170.89999999999998,316.6L177.2,313.0L175.2,316.6L177.2,320.20000000000005Z" fill="#231f20"/>
<path d="M196.9,159.3H200.5V307.0H196.9" fill="none" stroke="#231f20" stroke-width="0.9"/>
<text x="212.4" y="278.5" font-size="8.4" fill="#231f20" transform="rotate(-90 212.4 278.5)" textLength="87.6" lengthAdjust="spacingAndGlyphs">Abundant <tspan font-style="italic">Aratrisporites</tspan></text>
<path d="M223.0,203.2H232.8V196.0" fill="none" stroke="#231f20" stroke-width="1.15"/>
<path d="M232.8,192.6L236.60000000000002,198.4L232.8,196.9L229.0,198.4Z" fill="#231f20"/>
<text x="234.0" y="187.2" font-size="8.4" text-anchor="start" fill="#231f20" transform="rotate(-90 234.0 187.2)" textLength="84.5" lengthAdjust="spacingAndGlyphs" xml:space="preserve">Increasing  fern spores</text>
<path d="M144.4,327.4H148.4V342.1H144.4" fill="none" stroke="#231f20" stroke-width="0.9"/>
<path d="M156.0,335.4H168.2" fill="none" stroke="#231f20" stroke-width="1.15"/>
<path d="M154.7,335.4L161.0,331.79999999999995L159.0,335.4L161.0,339.0Z" fill="#231f20"/>
<text x="173.0" y="338.5" font-size="9.2" text-anchor="start" fill="#231f20" textLength="38.3" lengthAdjust="spacingAndGlyphs">Flora with</text>
<text x="173.0" y="348.2" font-size="9.2" text-anchor="start" fill="#231f20" textLength="38.7" lengthAdjust="spacingAndGlyphs" font-style="italic">Annalepis</text>
<text x="173.0" y="357.6" font-size="9.2" text-anchor="start" fill="#231f20" textLength="36.4" lengthAdjust="spacingAndGlyphs" font-style="italic">cf. zeilleri</text>
<rect x="255" y="57" width="15" height="264" fill="url(#gHumid)"/>
<rect x="255" y="320.9" width="15" height="53.6" fill="#ee8a8a"/>
<text x="263.1" y="57.2" font-size="9" text-anchor="middle" fill="#231f20">?</text>
<text x="266.0" y="219.4" font-size="10.7" text-anchor="middle" fill="#231f20" transform="rotate(-90 266.0 219.4)" textLength="88.7" lengthAdjust="spacingAndGlyphs">PREVALENT HUMID</text>
<text x="266.0" y="345.0" font-size="10.8" text-anchor="middle" fill="#231f20" transform="rotate(-90 266.0 345.0)" textLength="22.3" lengthAdjust="spacingAndGlyphs">ARID</text>
<text x="299.4" y="89.6" font-size="10.4" text-anchor="middle" fill="#231f20" transform="rotate(-90 299.4 89.6)" textLength="34.5" lengthAdjust="spacingAndGlyphs">STABLE</text>
<text x="310.6" y="89.2" font-size="10.2" text-anchor="middle" fill="#231f20" transform="rotate(-90 310.6 89.2)" textLength="55.7" lengthAdjust="spacingAndGlyphs">POST-NCIEs</text>
<text x="291.6" y="241.2" font-size="11.2" text-anchor="middle" fill="#231f20" transform="rotate(-90 291.6 241.2)" textLength="26.8" lengthAdjust="spacingAndGlyphs">NCIEs</text>
<text x="299.6" y="350.0" font-size="11.2" text-anchor="middle" fill="#231f20" transform="rotate(-90 299.6 350.0)" textLength="43.2" lengthAdjust="spacingAndGlyphs">POSITIVE</text>
<text x="310.6" y="349.8" font-size="11.2" text-anchor="middle" fill="#231f20" transform="rotate(-90 310.6 349.8)" textLength="32.5" lengthAdjust="spacingAndGlyphs">TREND</text>
<path d="M304.79999999999995,159.4H300.4V320.9H304.79999999999995" fill="none" stroke="#231f20" stroke-width="0.9"/>
<rect x="317.2" y="159.7" width="254.4" height="40.1" fill="#d6eaf3"/>
<rect x="317.2" y="204.9" width="254.4" height="56.9" fill="#ffedcf"/>
<rect x="317.2" y="266.2" width="254.4" height="26.6" fill="#d6eaf3"/>
<rect x="317.2" y="295.0" width="254.4" height="25.5" fill="#ffedcf"/>
<text x="326.4" y="180.3" font-size="8.2" text-anchor="start" fill="#231f20" textLength="7.6" lengthAdjust="spacingAndGlyphs" style="stroke:none">IV</text>
<text x="326.4" y="234.2" font-size="8.2" text-anchor="start" fill="#231f20" textLength="6.5" lengthAdjust="spacingAndGlyphs" style="stroke:none">III</text>
<text x="326.4" y="282.0" font-size="8.2" text-anchor="start" fill="#231f20" style="stroke:none">II</text>
<text x="326.4" y="310.3" font-size="8.2" text-anchor="start" fill="#231f20" style="stroke:none">I</text>
<path d="M408.8,28.8C408.9,30.7 408.9,36.4 409.2,40.4C409.4,44.4 409.9,48.6 410.3,52.7C410.8,56.8 411.4,61.6 411.9,65.0C412.4,68.4 412.5,70.9 413.3,73.1C414.1,75.3 416.2,76.8 416.6,78.2C417.1,79.6 416.9,79.9 416.0,81.3C415.1,82.7 412.6,84.9 410.9,86.4C409.2,87.9 406.8,89.5 405.8,90.5C404.9,91.5 404.9,91.6 405.2,92.6C405.5,93.6 406.7,95.4 407.8,96.6C408.9,97.8 411.2,98.7 411.9,99.7C412.6,100.7 412.1,101.8 411.9,102.8C411.7,103.8 410.6,104.2 410.9,105.4C411.2,106.6 413.2,108.8 413.9,110.2C414.6,111.6 415.9,112.5 415.0,113.9C414.1,115.3 410.7,116.3 408.8,118.4C406.9,120.5 404.7,124.5 403.7,126.6C402.7,128.6 402.0,129.3 402.7,130.7C403.4,132.0 405.7,133.4 407.8,134.7C409.9,135.9 414.3,137.2 415.4,138.2C416.5,139.2 415.7,139.4 414.6,140.9C413.5,142.4 409.9,145.5 408.8,147.0C407.7,148.5 407.6,149.0 407.8,150.1C408.0,151.2 410.1,152.4 409.9,153.5C409.7,154.6 408.7,155.5 406.8,156.8C404.9,158.1 400.4,159.9 398.6,161.3C396.8,162.7 396.4,163.9 396.2,165.4C396.0,166.9 396.4,168.4 397.6,170.5C398.9,172.6 401.5,175.5 403.7,177.7C405.9,179.9 408.8,181.8 410.9,183.8C413.0,185.8 415.4,188.6 416.6,189.9C417.9,191.2 418.3,191.1 418.4,191.8C418.5,192.5 418.6,193.0 417.4,193.9C416.1,194.8 412.3,196.3 410.9,197.4C409.5,198.5 408.6,199.4 408.8,200.4C409.0,201.4 410.4,202.1 411.9,203.5C413.4,204.9 416.8,207.2 418.0,208.6C419.2,210.0 419.3,210.2 419.0,211.7C418.7,213.2 418.0,215.2 416.0,217.8C414.0,220.4 410.0,223.9 406.8,227.0C403.6,230.1 399.7,233.5 396.6,236.2C393.5,238.9 390.2,241.3 388.4,243.4C386.6,245.5 386.1,246.8 385.9,248.5C385.7,250.2 385.8,251.9 387.4,253.6C389.0,255.3 393.4,257.2 395.5,258.7C397.6,260.2 399.3,261.6 400.2,262.8C401.1,264.0 401.0,264.7 401.1,265.8C401.2,266.9 401.8,267.6 400.7,269.2C399.6,270.8 396.4,273.4 394.5,275.3C392.6,277.2 389.7,278.9 389.4,280.4C389.1,281.9 390.4,283.1 392.5,284.5C394.6,285.9 399.3,287.3 401.7,288.6C404.1,289.9 406.6,291.1 406.8,292.3C407.0,293.5 405.8,294.4 402.7,295.8C399.6,297.2 392.6,299.3 388.4,300.9C384.1,302.5 379.2,304.3 377.2,305.4C375.2,306.5 375.6,306.4 376.5,307.4C377.4,308.3 379.3,309.6 382.3,311.1C385.3,312.6 391.3,314.5 394.5,316.2C397.7,317.9 400.5,319.6 401.7,321.3C402.9,323.0 402.4,324.9 401.9,326.4C401.4,327.9 399.9,329.0 398.5,330.5C397.1,332.0 395.3,333.1 393.4,335.3C391.5,337.5 389.9,340.9 387.2,343.5C384.5,346.1 380.2,348.5 377.0,350.7C373.8,352.9 370.5,354.6 367.8,356.8C365.1,359.0 362.4,361.7 360.7,363.9C359.0,366.1 358.3,368.6 357.6,370.1C356.9,371.6 356.8,372.3 356.6,372.7" fill="none" stroke="#a81f1f" stroke-width="1.35" stroke-linecap="round"/>
<path d="M489.6,21.6C489.1,22.7 487.4,25.8 486.5,28.2C485.6,30.6 484.5,33.9 484.0,36.3C483.5,38.7 483.5,40.1 483.6,42.5C483.8,44.9 484.2,48.0 484.9,50.7C485.5,53.4 486.6,55.8 487.5,58.8C488.4,61.8 489.9,66.1 490.6,69.0C491.3,71.9 491.6,73.8 491.6,76.2C491.6,78.6 490.8,81.4 490.6,83.4C490.4,85.5 489.9,87.2 490.2,88.5C490.5,89.8 492.1,90.5 492.6,91.5C493.1,92.5 493.3,93.6 493.2,94.6C493.1,95.6 492.0,96.5 492.0,97.7C492.0,98.9 493.0,100.3 493.2,101.7C493.4,103.1 493.8,104.3 493.4,106.1C493.0,107.9 491.6,110.2 490.6,112.3C489.6,114.3 487.9,116.5 487.5,118.4C487.1,120.3 487.7,122.0 488.1,123.5C488.6,125.0 490.2,125.9 490.2,127.6C490.2,129.3 488.2,131.6 488.1,133.7C488.0,135.8 488.9,137.5 489.6,139.9C490.4,142.3 491.9,145.7 492.6,148.0C493.3,150.3 493.8,152.0 493.6,153.5C493.4,155.0 492.5,156.1 491.6,157.2C490.7,158.3 488.4,158.9 488.1,160.3C487.8,161.7 489.4,163.5 489.6,165.4C489.9,167.3 489.4,169.4 489.6,171.5C489.8,173.6 490.6,175.6 491.0,177.7C491.4,179.8 491.9,182.0 492.2,183.8C492.5,185.6 492.4,187.1 492.6,188.5C492.8,189.9 492.2,191.0 493.2,192.3C494.2,193.6 497.5,195.3 498.8,196.4C500.1,197.5 500.8,198.0 500.8,198.8C500.8,199.7 500.7,200.3 498.8,201.5C496.9,202.7 492.1,204.8 489.6,206.2C487.1,207.5 484.7,208.5 484.0,209.6C483.3,210.7 484.8,211.7 485.5,212.7C486.2,213.7 488.0,214.8 488.1,215.8C488.2,216.8 486.0,217.3 486.1,218.8C486.2,220.3 488.4,222.6 488.5,225.0C488.6,227.4 486.7,230.7 486.9,233.1C487.1,235.5 488.7,237.1 489.6,239.3C490.5,241.5 492.0,244.4 492.2,246.4C492.4,248.4 491.2,250.0 490.6,251.5C490.0,253.0 487.8,254.4 488.5,255.6C489.2,256.8 492.6,257.5 494.7,258.7C496.8,259.9 499.4,261.5 500.8,262.8C502.2,264.1 503.0,265.6 503.4,266.5C503.8,267.4 503.8,267.7 503.2,268.5C502.6,269.3 502.2,270.2 499.8,271.2C497.4,272.2 490.7,273.7 488.5,274.7C486.3,275.7 486.6,276.5 486.5,277.4C486.4,278.3 488.1,279.4 488.2,280.2C488.3,281.0 488.0,281.4 487.2,282.2C486.4,283.0 483.9,284.1 483.3,285.1C482.8,286.1 482.6,287.2 483.9,288.2C485.2,289.2 487.5,290.2 491.1,291.2C494.7,292.2 500.8,293.3 505.4,294.3C510.0,295.3 515.3,296.3 518.7,297.4C522.1,298.5 524.3,299.9 525.8,301.0C527.3,302.1 527.5,303.0 527.5,304.1C527.5,305.2 526.9,306.2 525.8,307.6C524.7,309.0 522.7,310.8 520.7,312.7C518.7,314.6 516.0,316.8 513.6,318.8C511.2,320.9 508.4,322.9 506.4,325.0C504.3,327.1 502.5,329.1 501.3,331.1C500.1,333.1 500.3,335.0 499.3,337.2C498.3,339.4 496.9,342.0 495.2,344.4C493.5,346.8 491.1,349.2 489.0,351.5C486.9,353.8 483.4,357.0 482.3,358.1" fill="none" stroke="#a81f1f" stroke-width="1.35" stroke-linecap="round"/>
<path d="M352.0,385.6V391.4M375.6,385.6V391.4M399.2,385.6V391.4M422.8,385.6V391.4" fill="none" stroke="#7a7a7a" stroke-width="0.8"/>
<path d="M340.2,391.4V385.3H434.6V391.4M363.8,385.3V391.4M387.4,385.3V391.4M411.0,385.3V391.4" fill="none" stroke="#231f20" stroke-width="0.8"/>
<text x="340.3" y="405.7" font-size="10" text-anchor="middle" fill="#231f20" style="stroke-width:0.06px">-31</text>
<text x="363.9" y="405.7" font-size="10" text-anchor="middle" fill="#231f20" style="stroke-width:0.06px">-29</text>
<text x="387.5" y="405.7" font-size="10" text-anchor="middle" fill="#231f20" style="stroke-width:0.06px">-27</text>
<text x="411.1" y="405.7" font-size="10" text-anchor="middle" fill="#231f20" style="stroke-width:0.06px">-25</text>
<text x="434.7" y="405.7" font-size="10" text-anchor="middle" fill="#231f20" style="stroke-width:0.06px">-23</text>
<path d="M486.7,385.6V391.4M510.3,385.6V391.4M533.9,385.6V391.4" fill="none" stroke="#231f20" stroke-width="0.8"/>
<path d="M474.9,391.4V385.3H545.7V391.4M498.5,385.3V391.4M522.1,385.3V391.4" fill="none" stroke="#231f20" stroke-width="0.8"/>
<text x="474.9" y="405.7" font-size="10" text-anchor="middle" fill="#231f20" style="stroke-width:0.06px">0</text>
<text x="498.5" y="405.7" font-size="10" text-anchor="middle" fill="#231f20" style="stroke-width:0.06px">80</text>
<text x="522.1" y="405.7" font-size="10" text-anchor="middle" fill="#231f20" style="stroke-width:0.06px">160</text>
<text x="545.7" y="405.7" font-size="10" text-anchor="middle" fill="#231f20" style="stroke-width:0.06px">240</text>
<text x="350.6" y="425.8" font-size="10.3" fill="#231f20" style="stroke-width:0.06px">δ<tspan font-size="5.9" dy="-3.5" style="stroke-width:0.25px">13</tspan><tspan dy="3.5">C</tspan><tspan font-size="6.2" dy="2.5" style="stroke-width:0.25px">TOC</tspan><tspan dy="-2.5">(‰ VPDB)</tspan></text>
<text x="356.6" y="439.4" font-size="10.6" text-anchor="start" fill="#231f20" textLength="20.4" lengthAdjust="spacingAndGlyphs" style="stroke-width:0.06px">only</text>
<text x="379.9" y="439.4" font-size="10.3" text-anchor="start" fill="#231f20" textLength="31.2" lengthAdjust="spacingAndGlyphs" style="stroke-width:0.06px">TOC:N</text>
<text x="417.0" y="439.5" font-size="11.4" text-anchor="start" fill="#231f20" style="stroke-width:0.06px">≤</text>
<text x="427.4" y="439.4" font-size="10.3" text-anchor="start" fill="#231f20" textLength="11.5" lengthAdjust="spacingAndGlyphs" style="stroke-width:0.06px">10</text>
<text x="467.8" y="426.0" font-size="10.9" text-anchor="start" fill="#231f20" textLength="94.6" lengthAdjust="spacingAndGlyphs" style="stroke-width:0.06px">Hg/TOC (ppb/wt%)</text>
<text x="469.8" y="439.6" font-size="10.9" text-anchor="start" fill="#231f20" textLength="88.9" lengthAdjust="spacingAndGlyphs" style="stroke-width:0.06px">only TOC &gt; 0.2 %</text>
<path d="M576.6,255.6H580.7V321.4H576.6" fill="none" stroke="#231f20" stroke-width="0.9"/>
<path d="M585.7,289.0H598.1" fill="none" stroke="#231f20" stroke-width="1.15"/>
<path d="M584.4000000000001,289.0L590.7,285.4L588.7,289.0L590.7,292.6Z" fill="#231f20"/>
<text x="610.4" y="289.5" font-size="10.2" text-anchor="middle" fill="#231f20" transform="rotate(-90 610.4 289.5)" textLength="35.4" lengthAdjust="spacingAndGlyphs" style="stroke-width:0.1px">Volcanic</text>
<text x="621.6" y="289.3" font-size="10.2" text-anchor="middle" fill="#231f20" transform="rotate(-90 621.6 289.3)" textLength="45.2" lengthAdjust="spacingAndGlyphs" style="stroke-width:0.1px">Hg inputs?</text>
<rect x="630.9" y="159.8" width="15.2" height="161" fill="#ffc35e"/>
<text x="642.9" y="236.4" font-size="12" text-anchor="middle" fill="#231f20" transform="rotate(-90 642.9 236.4)" textLength="24.3" lengthAdjust="spacingAndGlyphs" style="stroke-width:0.1px">CPE</text>
<rect x="655.6" y="150" width="29.4" height="212" fill="url(#gWr)"/>
<text x="666.0" y="306.7" font-size="8" text-anchor="start" fill="#231f20" transform="rotate(-90 666.0 306.7)" textLength="95.2" lengthAdjust="spacingAndGlyphs">Wrangellia, max age span:</text>
<text x="677.0" y="319.3" font-size="8" text-anchor="start" fill="#231f20" transform="rotate(-90 677.0 319.3)" textLength="123.2" lengthAdjust="spacingAndGlyphs">Late Ladinian - early Late Carnian</text>
<text x="670.6" y="361.9" font-size="9" text-anchor="middle" fill="#231f20">?</text>
</svg></body></html>
